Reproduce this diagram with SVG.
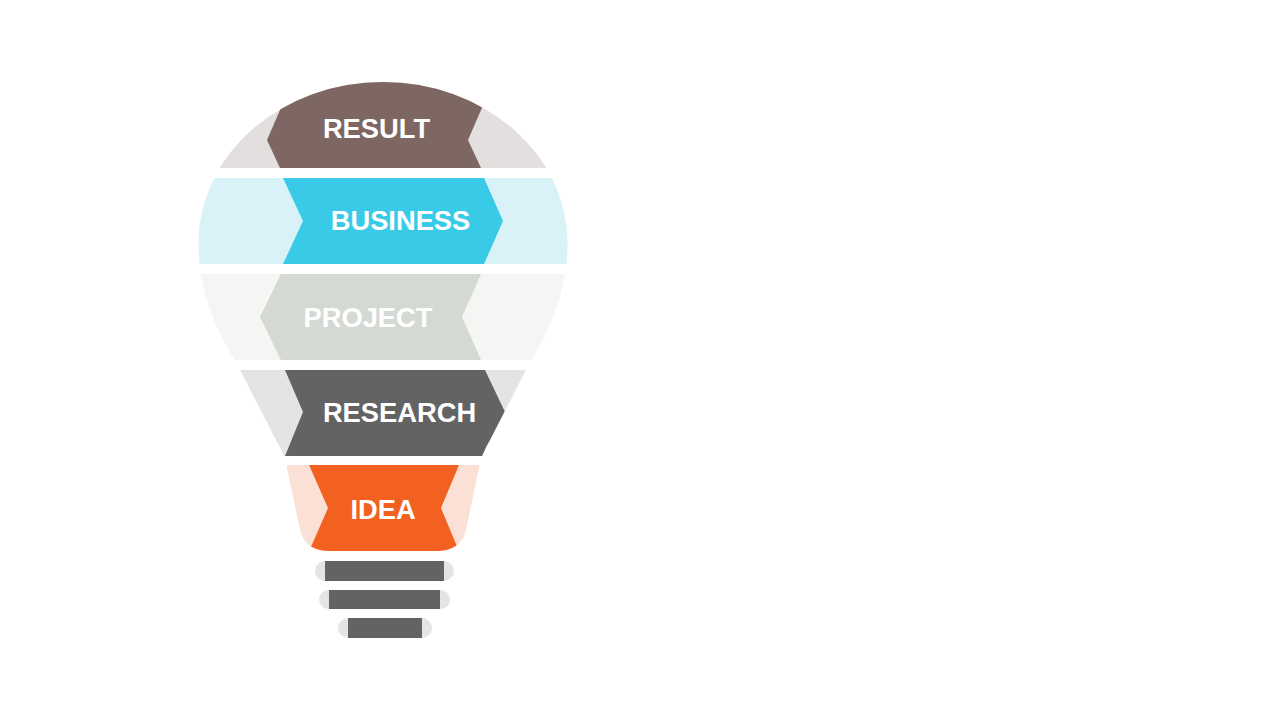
<svg xmlns="http://www.w3.org/2000/svg" width="1280" height="720" viewBox="0 0 1280 720">
<style>
.lbl{font-family:"Liberation Sans",Arial,sans-serif;font-weight:bold;font-size:27.3px;fill:#FFFFFF;text-anchor:middle}
.pill{fill:#E4E4E4}
.bar{fill:#636363}
</style>
<defs>
<clipPath id="bulb">
<path d="M383,82 A184.5,161 0 0 0 198.5,243 C198.5,292 217,332 236,362 L276,440 Q285,455 287,468 L300,530 Q305,551 330,551 L436,551 Q461,551 466,530 L479,468 Q481,455 490,440 L530,362 C549,332 567.5,292 567.5,243 A184.5,161 0 0 0 383,82 Z"/>
</clipPath>
</defs>
<rect width="1280" height="720" fill="#FFFFFF"/>
<g clip-path="url(#bulb)">
<g id="result">
<rect x="150" y="60" width="470" height="108" fill="#E4DFDF"/>
<polygon points="293,80 494,80 468,140 481,168 280,168 267,140" fill="#7E6762"/>
<text class="lbl" x="376.5" y="138">RESULT</text>
</g>
<g id="business">
<rect x="150" y="178" width="470" height="86" fill="#D9F2F7"/>
<polygon points="283,178 484,178 503,221 484,264 283,264 303,221" fill="#38CAE6"/>
<text class="lbl" x="400.5" y="230">BUSINESS</text>
</g>
<g id="project">
<rect x="150" y="274" width="470" height="86" fill="#F5F5F3"/>
<polygon points="281,274 481,274 462,317 481,360 281,360 260,317" fill="#D5D9D4"/>
<text class="lbl" x="368" y="327">PROJECT</text>
</g>
<g id="research">
<rect x="150" y="370" width="470" height="86" fill="#E4E4E4"/>
<polygon points="285,370 485,370 505,412 485,456 285,456 303,412" fill="#636363"/>
<text class="lbl" x="399.5" y="422">RESEARCH</text>
</g>
<g id="idea">
<rect x="150" y="465" width="470" height="100" fill="#FBE0D6"/>
<polygon points="309,465 459,465 441,508 461,556 307,556 328,508" fill="#F36120"/>
<text class="lbl" x="383" y="519">IDEA</text>
</g>
</g>
<g id="base">
<rect class="pill" x="315" y="561" width="139" height="20" rx="10"/>
<rect class="bar" x="325" y="561" width="119" height="20"/>
<rect class="pill" x="319" y="590" width="131" height="19" rx="9.5"/>
<rect class="bar" x="329" y="590" width="111" height="19"/>
<rect class="pill" x="338" y="618" width="94" height="20" rx="10"/>
<rect class="bar" x="348" y="618" width="74" height="20"/>
</g>
<g id="connectors"/>
</svg>
